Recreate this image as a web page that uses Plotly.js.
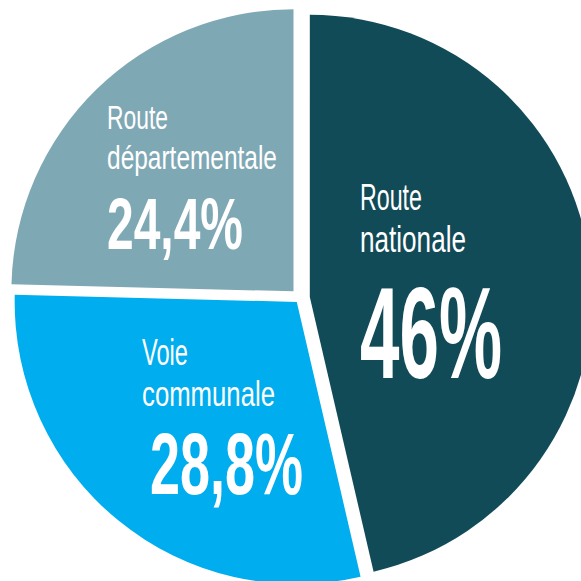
<!DOCTYPE html>
<html><head><meta charset="utf-8">
<script src="https://cdn.plot.ly/plotly-3.0.1.min.js"></script>
<style>html,body{margin:0;padding:0;overflow:hidden;background:#fff}</style>
</head><body><div id="chart" style="width:600px;height:600px"></div>
<script>
// ---- data ----
const categories = ['Route nationale', 'Voie communale', 'Route départementale'];
const shares = [46, 28.8, 24.4];
const shareLabels = ['46%', '28,8%', '24,4%'];
const labelLine1 = ['Route', 'Voie', 'Route'];
const labelLine2 = ['nationale', 'communale', 'départementale'];
const colors = ['#124b58', '#00adee', '#7fa8b5'];

// ---- layout / text placement (page pixels) ----
const W = 600, H = 600, M = {l: 8, r: 8, t: 6, b: 10};
const pw = W - M.l - M.r, ph = H - M.t - M.b;
const px = x => (x - M.l) / pw, py = y => 1 - (y - M.t) / ph;
const FONT = "'Liberation Sans', Arial, sans-serif";
const DESC = 0.212;
const place = [
  {x1: 360, b1: 210, f1: 37, w1: 62,  x2: 360, b2: 252, f2: 37, w2: 106, xv: 360, bv: 378, fv: 129, wv: 142},
  {x1: 142, b1: 365, f1: 37, w1: 46,  x2: 142, b2: 406, f2: 35, w2: 133, xv: 150, bv: 494, fv: 88,  wv: 153},
  {x1: 107, b1: 129, f1: 33, w1: 61,  x2: 107, b2: 169, f2: 33, w2: 170, xv: 107, bv: 249, fv: 73,  wv: 136}
];

const annotations = [];
const targetW = [];
function addText(text, x, base, fs, w, bold) {
  annotations.push({
    text: text, xref: 'paper', yref: 'paper', showarrow: false,
    x: px(x), y: py(base + DESC * fs), xanchor: 'left', yanchor: 'bottom',
    borderpad: 0, borderwidth: 0,
    font: {family: FONT, size: fs, color: '#ffffff', weight: bold ? 700 : 400}
  });
  targetW.push(w);
}
categories.forEach((c, i) => {
  const p = place[i];
  addText(labelLine1[i], p.x1, p.b1, p.f1, p.w1, false);
  addText(labelLine2[i], p.x2, p.b2, p.f2, p.w2, false);
  addText(shareLabels[i], p.xv, p.bv, p.fv, p.wv, true);
});

const trace = {
  type: 'pie', labels: categories, values: shares,
  marker: {colors: colors, line: {width: 0}},
  sort: false, direction: 'clockwise', rotation: 0,
  pull: [0.035, 0.018, 0.033],
  textinfo: 'none', hoverinfo: 'skip', showlegend: false
};
const layout = {
  width: W, height: H, margin: M, showlegend: false,
  paper_bgcolor: '#ffffff', plot_bgcolor: '#ffffff',
  annotations: annotations
};
Plotly.newPlot('chart', [trace], layout, {staticPlot: true, displayModeBar: false}).then(gd => {
  gd.querySelectorAll('g.annotation').forEach(g => {
    const i = +g.getAttribute('data-index');
    const t = g.querySelector('text.annotation-text');
    if (!t) return;
    const w = t.getBBox().width;
    if (w > 0) {
      t.style.transformBox = 'fill-box';
      t.style.transformOrigin = 'left center';
      t.style.transform = 'scaleX(' + (targetW[i] / w) + ')';
    }
  });
});
</script>
</body></html>
